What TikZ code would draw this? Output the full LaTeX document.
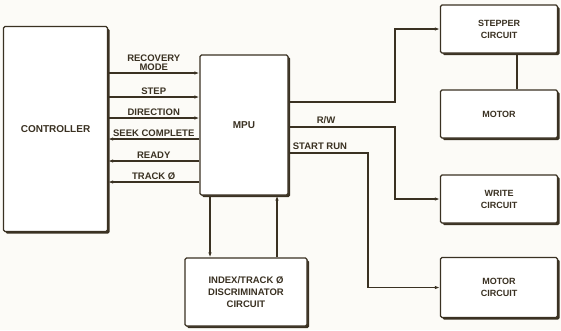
\documentclass[tikz,border=0pt]{standalone}
\usepackage{fontspec}
\setmainfont{Liberation Sans}
\usetikzlibrary{shadows,arrows.meta}
\definecolor{ink}{HTML}{3A3122}
\definecolor{paper}{HTML}{FCFBF7}
\begin{document}
\begin{tikzpicture}[x=1pt,y=-1pt,
  box/.style={draw=ink, line width=1.3pt, fill=white, rounded corners=1.5pt,
    drop shadow={shadow xshift=2pt, shadow yshift=-2pt, fill=ink, opacity=1},
    align=center, inner sep=1pt, font=\fontsize{9}{12}\selectfont\bfseries, text=ink},
  wire/.style={draw=ink, line width=1.3pt},
  arr/.style={wire, -{Latex[length=5pt,width=3.5pt]}},
  lbl/.style={text=ink, inner sep=1pt, font=\fontsize{9.5}{11}\selectfont\bfseries, align=center}]
\useasboundingbox[fill=paper] (0,0) rectangle (561,330);
% boxes
\node[box, minimum width=104pt, minimum height=205pt, font=\fontsize{10}{12}\selectfont\bfseries] (ctrl) at (55.5,129) {CONTROLLER};
\node[box, minimum width=88pt, minimum height=140pt, font=\fontsize{10}{12}\selectfont\bfseries] (mpu) at (244,125) {MPU};
\node[box, minimum width=122pt, minimum height=68pt, font=\fontsize{9.5}{12}\selectfont\bfseries] (idx) at (246,292) {INDEX/TRACK Ø\\DISCRIMINATOR\\CIRCUIT};
\node[box, minimum width=117pt, minimum height=48pt] (step) at (499,29) {STEPPER\\CIRCUIT};
\node[box, minimum width=117pt, minimum height=48pt] (motor) at (499,114) {MOTOR};
\node[box, minimum width=117pt, minimum height=48pt] (write) at (499,199) {WRITE\\CIRCUIT};
\node[box, minimum width=117pt, minimum height=60pt] (mcirc) at (499,287.5) {MOTOR\\CIRCUIT};
% level coordinates
\coordinate (y1) at (0,73);
\coordinate (y2) at (0,97);
\coordinate (y3) at (0,118);
\coordinate (y4) at (0,139);
\coordinate (y5) at (0,161);
\coordinate (y6) at (0,182);
\coordinate (yS) at (0,102);
\coordinate (yRW) at (0,127);
\coordinate (ySR) at (0,153);
\coordinate (xA) at (395,0);
\coordinate (xB) at (368,0);
\coordinate (xD) at (210,0);
\coordinate (xU) at (277,0);
\coordinate (xM) at (517,0);
% controller <-> MPU
\draw[arr] (ctrl.east |- y1) -- node[lbl, above=1pt] {RECOVERY\\[-2pt]MODE} (mpu.west |- y1);
\draw[arr] (ctrl.east |- y2) -- node[lbl, above=1pt] {STEP} (mpu.west |- y2);
\draw[arr] (ctrl.east |- y3) -- node[lbl, above=1pt] {DIRECTION} (mpu.west |- y3);
\draw[arr] (mpu.west |- y4) -- node[lbl, above=1pt] {SEEK COMPLETE} (ctrl.east |- y4);
\draw[arr] (mpu.west |- y5) -- node[lbl, above=1pt] {READY} (ctrl.east |- y5);
\draw[arr] (mpu.west |- y6) -- node[lbl, above=1pt] {TRACK Ø} (ctrl.east |- y6);
% MPU <-> index
\draw[arr] (mpu.south -| xD) -- (idx.north -| xD);
\draw[arr] (idx.north -| xU) -- (mpu.south -| xU);
% MPU -> right
\draw[arr] (mpu.east |- yS) -| (xA |- step.west) -- (step.west);
\draw[arr] (mpu.east |- yRW) -| (xA |- write.west) -- (write.west);
\draw[arr] (mpu.east |- ySR) -| (xB |- mcirc.west) -- (mcirc.west);
\node[lbl, anchor=south west] (rw) at ([xshift=27pt,yshift=2pt]mpu.east |- yRW) {R/W};
\node[lbl, anchor=south west] (sr) at ([xshift=3pt,yshift=2pt]mpu.east |- ySR) {START RUN};
% stepper - motor
\draw[wire] (step.south -| xM) -- (motor.north -| xM);
\end{tikzpicture}
\end{document}
